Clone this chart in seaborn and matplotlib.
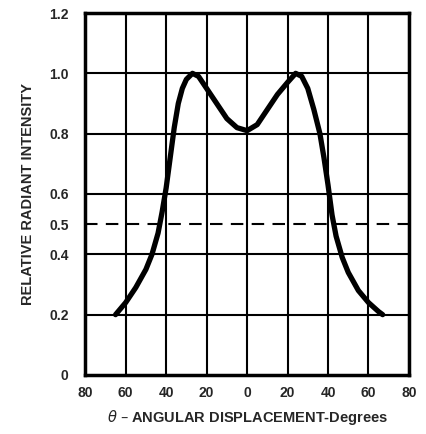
import numpy as np
import pandas as pd
import matplotlib
matplotlib.use("Agg")
import matplotlib.pyplot as plt
import seaborn as sns

# Relative radiant intensity vs angular displacement
angle_deg = [-65, -60, -55, -50, -47, -44, -42, -40, -38, -36, -34, -32, -30,
             -27, -24, -20, -15, -10, -5, 0, 5, 10, 15, 20, 24, 27, 30, 33,
             36, 38, 40, 42, 44, 47, 50, 55, 60, 65, 67]
intensity = [0.20, 0.24, 0.29, 0.35, 0.40, 0.47, 0.54, 0.62, 0.72, 0.82, 0.90,
             0.95, 0.98, 1.00, 0.99, 0.95, 0.90, 0.85, 0.82, 0.81, 0.83, 0.88,
             0.93, 0.97, 1.00, 0.99, 0.95, 0.88, 0.80, 0.72, 0.63, 0.53, 0.46,
             0.39, 0.34, 0.28, 0.24, 0.21, 0.20]
half_power = 0.5

x_ticks = [-80, -60, -40, -20, 0, 20, 40, 60, 80]
x_tick_labels = ["80", "60", "40", "20", "0", "20", "40", "60", "80"]
# gridded y ticks, and the extra labelled ones without a grid line
y_grid = [0.2, 0.4, 0.6, 0.8, 1.0]
y_grid_labels = ["0.2", "0.4", "0.6", "0.8", "1.0"]
y_extra = [0, 0.5, 1.2]
y_extra_labels = ["0", "0.5", "1.2"]

df = pd.DataFrame({"angle": angle_deg, "intensity": intensity})

sns.set_theme(style="white")
font = ["Liberation Sans Narrow", "Liberation Sans", "DejaVu Sans"]
plt.rcParams["font.family"] = font

fig = plt.figure(figsize=(4.26, 4.34), dpi=100)
ax = fig.add_axes([0.200, 0.136, 0.760, 0.834])

sns.lineplot(data=df, x="angle", y="intensity", color="black", linewidth=3.8,
             ax=ax, zorder=4)
ax.axhline(half_power, color="black", linestyle=(0, (6, 4)), linewidth=1.5, zorder=3)

ax.set_xlim(-80, 80)
ax.set_ylim(0, 1.2)
ax.set_xticks(x_ticks)
ax.set_xticklabels(x_tick_labels, fontsize=10, fontweight="bold")
ax.set_yticks(y_grid)
ax.set_yticklabels(y_grid_labels, fontsize=10, fontweight="bold")
ax.set_yticks(y_extra, minor=True)
ax.set_yticklabels(y_extra_labels, minor=True, fontsize=10, fontweight="bold")
ax.grid(False)
ax.grid(True, which="major", color="black", linewidth=1.5)
ax.tick_params(which="both", length=0)
ax.tick_params(axis="x", pad=8)
ax.tick_params(axis="y", which="both", pad=12)

for side in ax.spines.values():
    side.set_color("black")
    side.set_linewidth(2.5)

ax.set_xlabel("$\\theta$ \u2013 ANGULAR DISPLACEMENT-Degrees", fontsize=10.5,
              fontweight="bold", labelpad=6)
ax.set_ylabel("RELATIVE RADIANT INTENSITY", fontsize=10.5, fontweight="bold",
              labelpad=10)

fig.savefig("out.png", dpi=100)
plt.close(fig)
